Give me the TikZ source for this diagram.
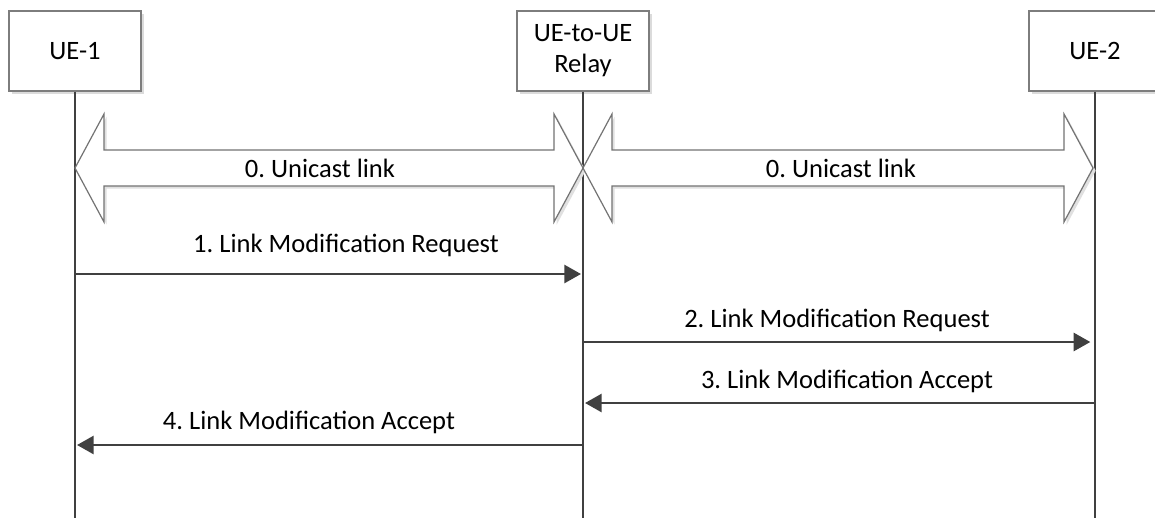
\documentclass[tikz,border=0pt]{standalone}
\usepackage{fontspec}
\setmainfont{Carlito}
\usetikzlibrary{arrows.meta,shadows}
\frenchspacing
\definecolor{LineGray}{RGB}{64,64,64}
\definecolor{BoxGray}{RGB}{125,125,125}
\newcommand{\labelfont}{\fontsize{19.9pt}{23.3pt}\selectfont}
% block arrow: left tip x, right tip x, centre y
\newcommand{\unicastarrow}[3]{%
  \draw[blockarrow] (#1,#3) -- ({#1+29},{#3-54}) -- ({#1+29},{#3-18})
    -- ({#2-29},{#3-18}) -- ({#2-29},{#3-54}) -- (#2,#3)
    -- ({#2-29},{#3+54}) -- ({#2-29},{#3+18}) -- ({#1+29},{#3+18})
    -- ({#1+29},{#3+54}) -- cycle;}
\tikzset{
  entity/.style={draw=BoxGray, line width=0.8pt, fill=white, align=center,
    minimum width=99pt, minimum height=60pt, inner sep=0pt, font=\labelfont,
    drop shadow={shadow xshift=2pt, shadow yshift=-2pt, fill=black!14, opacity=1}},
  lifeline/.style={draw=LineGray, line width=2.1pt},
  msg/.style={draw=LineGray, line width=2pt, shorten >=1.5pt,
    -{Triangle[length=12.5pt,width=13.5pt]}},
  blockarrow/.style={draw=black!55, line width=0.9pt, fill=white,
    drop shadow={shadow xshift=2pt, shadow yshift=-2pt, fill=black!12, opacity=1}},
  msglabel/.style={font=\labelfont, inner sep=0pt}
}
\begin{document}
\begin{tikzpicture}[x=0.75pt, y=-0.75pt]
  \useasboundingbox (0,0) rectangle (1155,518);
  \clip (0,0) rectangle (1155,518);
  \fill[white] (0,0) rectangle (1155,518);

  \node[entity] (ue1) at (75,51) {UE-1};
  \node[entity] (relay) at (583,51) {UE-to-UE\\Relay};
  \node[entity] (ue2) at (1095,51) {UE-2};

  \draw[lifeline] (ue1.south) -- (ue1 |- 0,518);
  \draw[lifeline] (relay.south) -- (relay |- 0,518);
  \draw[lifeline] (ue2.south) -- (ue2 |- 0,518);

  % step 0
  \unicastarrow{75}{583}{168}
  \unicastarrow{583}{1093}{168}
  \node[msglabel] (link1) at (320,168) {0. Unicast link};
  \node[msglabel] (link2) at (841,168) {0. Unicast link};

  % steps 1-4
  \draw[msg] (ue1 |- 0,274) -- (relay |- 0,274);
  \node[msglabel] (req1) at (346,245) {1. Link Modification Request};
  \draw[msg, shorten >=3.5pt] (relay |- 0,342) -- (ue2 |- 0,342);
  \node[msglabel] (req2) at (837,320) {2. Link Modification Request};
  \draw[msg] (ue2 |- 0,403) -- (relay |- 0,403);
  \node[msglabel] (acc3) at (847,381) {3. Link Modification Accept};
  \draw[msg] (relay |- 0,445) -- (ue1 |- 0,445);
  \node[msglabel] (acc4) at (309,422) {4. Link Modification Accept};
\end{tikzpicture}
\end{document}
